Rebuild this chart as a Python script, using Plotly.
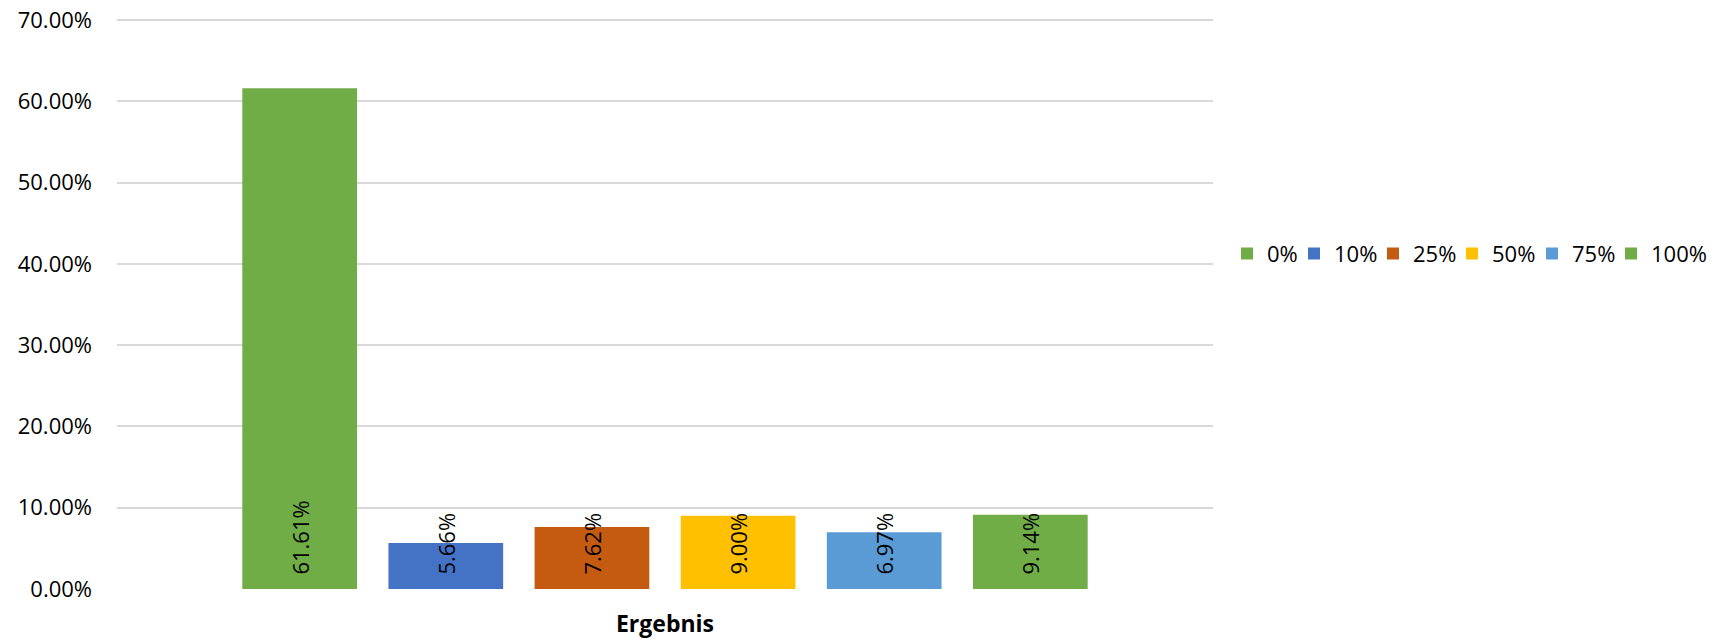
import plotly.graph_objects as go

category = ["Ergebnis"]
series_names = ["0%", "10%", "25%", "50%", "75%", "100%"]
values = [0.6161, 0.0566, 0.0762, 0.0900, 0.0697, 0.0914]
colors = ["#70AD47", "#4472C4", "#C55A11", "#FFC000", "#5B9BD5", "#70AD47"]
y_ticks = [0.0, 0.1, 0.2, 0.3, 0.4, 0.5, 0.6, 0.7]

FONT = "Open Sans"

# layout geometry in page pixels (the page body margin is removed below)
FIG_W, FIG_H = 1729, 639
PLOT_L, PLOT_W = 117, 1096
legend_left_px = [1227, 1294, 1373, 1452, 1532, 1611]


def legend_id(i):
    return "legend" if i == 0 else f"legend{i + 1}"


fig = go.Figure()
for i, (name, v, c) in enumerate(zip(series_names, values, colors)):
    fig.add_trace(go.Bar(
        name=name,
        x=category,
        y=[v],
        marker=dict(color=c, line=dict(width=0)),
        text=["\u00a0\u00a0" + f"{v*100:.2f}%"],
        textposition="inside",
        insidetextanchor="start",
        textangle=-90,
        constraintext="none",
        textfont=dict(family=FONT, size=22, color="#000000"),
        hoverinfo="skip",
        legend=legend_id(i),
    ))

legends = {}
for i, px in enumerate(legend_left_px):
    legends[legend_id(i)] = dict(
        orientation="h",
        x=(px - PLOT_L) / PLOT_W,
        xanchor="left",
        y=0.587,
        yanchor="middle",
        font=dict(family=FONT, size=22, color="#000000"),
        bgcolor="rgba(0,0,0,0)",
    )

fig.update_layout(
    width=FIG_W,
    height=FIG_H,
    margin=dict(l=PLOT_L, r=FIG_W - PLOT_L - PLOT_W, t=18, b=50, autoexpand=False),
    paper_bgcolor="white",
    plot_bgcolor="white",
    barmode="group",
    bargap=0.2,
    bargroupgap=0.215,
    font=dict(family=FONT, size=22, color="#000000"),
    showlegend=True,
    xaxis=dict(
        showgrid=False,
        showline=False,
        zeroline=False,
        ticks="",
        automargin=False,
        tickfont=dict(family=FONT, size=23, color="#000000", weight="bold"),
        ticklabelstandoff=19,
        ticklabeloverflow="allow",
    ),
    yaxis=dict(
        range=[0, 0.7025],
        tickvals=y_ticks,
        tickformat=".2%",
        showgrid=True,
        gridcolor="#D9D9D9",
        gridwidth=1.5,
        zeroline=False,
        showline=False,
        ticks="",
        automargin=False,
        tickfont=dict(family=FONT, size=22, color="#000000"),
        ticklabelstandoff=24,
        ticklabeloverflow="allow",
    ),
    **legends,
)

fig.write_html(
    "out.html",
    config={"displayModeBar": False},
    post_script="document.body.style.margin='0';",
)
